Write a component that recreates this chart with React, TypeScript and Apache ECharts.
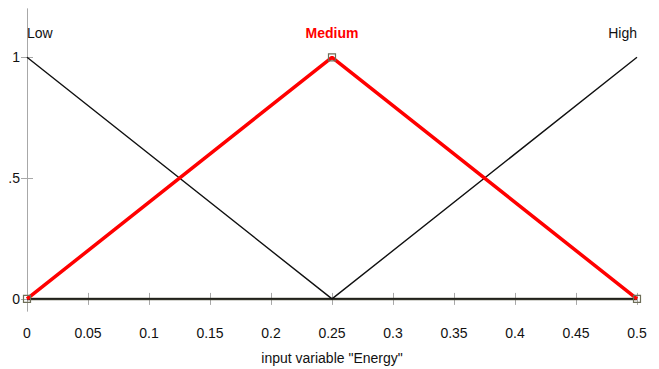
import React, { useEffect, useRef } from "react";
import * as echarts from "echarts";

const xPoints = [0, 0.25, 0.5];
const lowValues = [1, 0, 0];
const mediumValues = [0, 1, 0];
const highValues = [0, 0, 1];
const mfNames = ["Low", "Medium", "High"];
const mfLabelX = [0, 0.25, 0.5];
const mfLabelY = [1.1, 1.1, 1.1];
const xTicks = [0, 0.05, 0.1, 0.15, 0.2, 0.25, 0.3, 0.35, 0.4, 0.45, 0.5];
const yTicks = [0, 0.5, 1];
const yTickLabels = ["0", ".5", "1"];
const axisTitle = 'input variable "Energy"';

const FONT = "'Liberation Sans', Arial, sans-serif";
const FS = 14;

export default function App() {
  const ref = useRef<HTMLDivElement>(null);
  useEffect(() => {
    document.body.style.margin = "0";
    const chart = echarts.init(ref.current!, null, { renderer: "svg" });
    const pairs = (vals: number[]) => xPoints.map((x, i) => [x, vals[i]]);
    const zeroSeg: number[][] = [];
    [lowValues, highValues].forEach((vals) => {
      for (let i = 0; i < xPoints.length - 1; i++) {
        if (vals[i] === 0 && vals[i + 1] === 0) {
          zeroSeg.push([xPoints[i], 0], [xPoints[i + 1], 0]);
        }
      }
    });
    zeroSeg.sort((a, b) => a[0] - b[0]);
    const grey = "#a8a8a8";
    const tickStyle = { show: true, inside: true, length: 6, lineStyle: { color: grey } };
    const fmt = (v: number) => String(Math.round(v * 100) / 100);
    const xBase = {
      type: "value",
      min: 0,
      max: 0.5,
      interval: 0.05,
      axisLine: { show: true, lineStyle: { color: grey } },
      axisTick: { ...tickStyle, customValues: xTicks },
      splitLine: { show: false },
    };
    const yBase = {
      type: "value",
      min: -0.05,
      max: 1.2,
      axisLine: { show: true, lineStyle: { color: grey } },
      axisTick: { ...tickStyle, customValues: yTicks },
      splitLine: { show: false },
    };
    chart.setOption({
      animation: false,
      grid: { left: 27, top: 9, right: 22, bottom: 58, containLabel: false, outerBoundsMode: "none" },
      xAxis: [
        {
          ...xBase,
          position: "bottom",
          name: axisTitle,
          nameLocation: "middle",
          nameGap: 40,
          nameTextStyle: { color: "#111", fontFamily: FONT, fontSize: FS },
          axisLabel: {
            color: "#111",
            fontFamily: FONT,
            fontSize: FS,
            margin: 15,
            customValues: xTicks,
            formatter: fmt,
          },
        },
        { ...xBase, position: "top", axisLabel: { show: false } },
      ],
      yAxis: [
        {
          ...yBase,
          position: "left",
          axisLabel: {
            color: "#111",
            fontFamily: FONT,
            fontSize: FS,
            margin: 7,
            customValues: yTicks,
            formatter: (v: number) => yTickLabels[yTicks.indexOf(v)] ?? "",
          },
        },
        { ...yBase, position: "right", axisLabel: { show: false } },
      ],
      series: [
        {
          type: "line",
          name: "baseline",
          data: zeroSeg,
          symbol: "none",
          lineStyle: { color: "#545440", width: 2.5 },
          z: 2,
        },
        {
          type: "line",
          name: mfNames[0],
          data: pairs(lowValues),
          symbol: "none",
          lineStyle: { color: "#111", width: 1.4 },
          z: 3,
        },
        {
          type: "line",
          name: mfNames[2],
          data: pairs(highValues),
          symbol: "none",
          lineStyle: { color: "#111", width: 1.4 },
          z: 3,
        },
        {
          type: "line",
          name: mfNames[1],
          data: pairs(mediumValues),
          symbol: "none",
          lineStyle: { color: "#ff0000", width: 3.5 },
          z: 4,
        },
        {
          type: "scatter",
          data: pairs(mediumValues),
          symbol: "rect",
          symbolSize: 7,
          itemStyle: { color: "rgba(0,0,0,0)", borderColor: "#6e6e58", borderWidth: 1.2, opacity: 1 },
          z: 5,
        },
        {
          type: "scatter",
          symbolSize: 0,
          z: 6,
          itemStyle: { opacity: 1 },
          data: mfNames.map((n, i) => ({
            value: [mfLabelX[i], mfLabelY[i]],
            label: {
              show: true,
              formatter: n,
              position: "inside",
              align: i === 0 ? "left" : i === 2 ? "right" : "center",
              verticalAlign: "middle",
              fontFamily: FONT,
              fontSize: FS,
              opacity: 1,
              color: i === 1 ? "#ff0000" : "#111",
              fontWeight: i === 1 ? "bold" : "normal",
            },
          })),
        },
      ],
    } as any);
    return () => chart.dispose();
  }, []);
  return <div ref={ref} style={{ width: 659, height: 369, background: "#fff" }} />;
}
